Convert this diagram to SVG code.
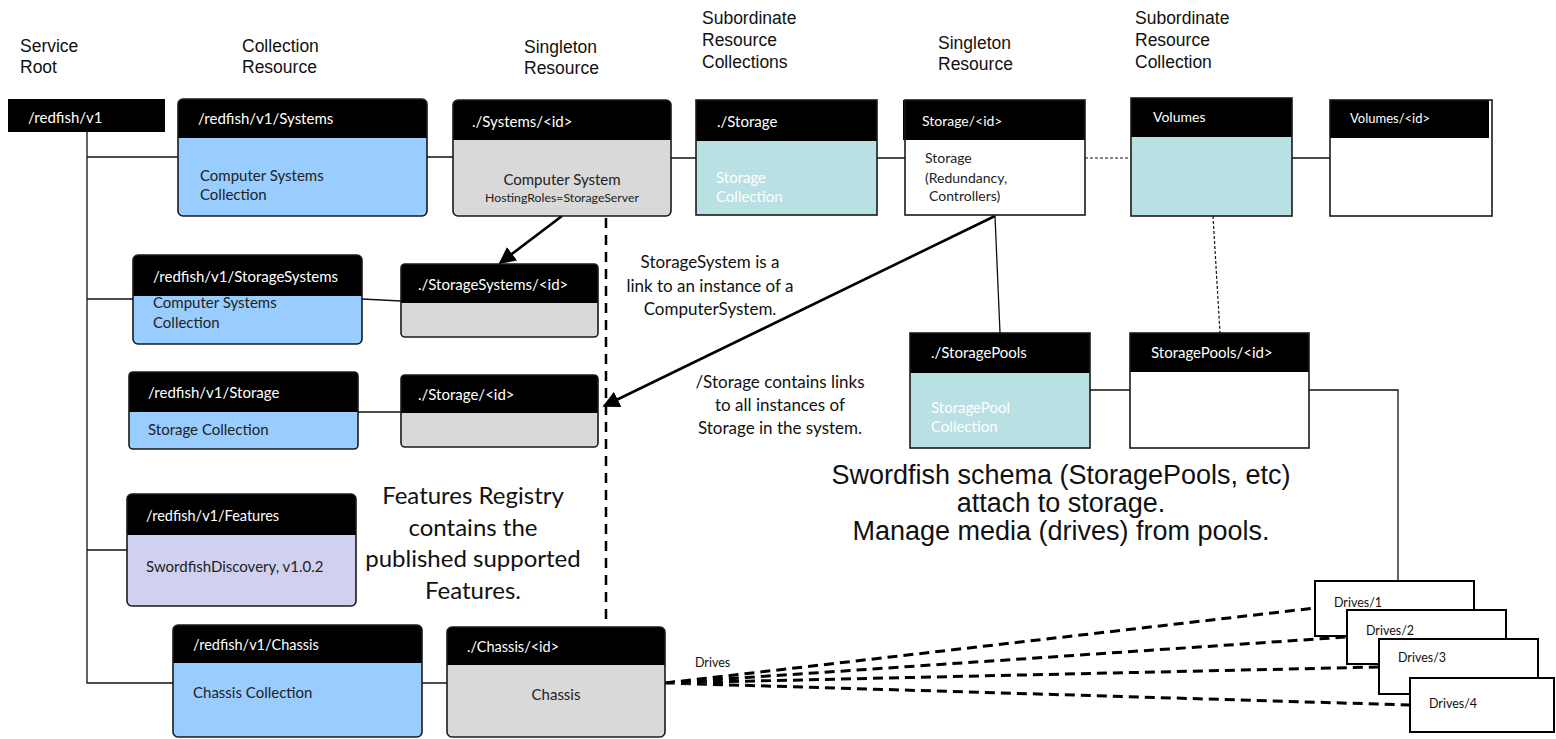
<svg xmlns="http://www.w3.org/2000/svg" width="1556" height="739" viewBox="0 0 1556 739">
<style>
.lbl{font-family:"Liberation Sans",Arial,sans-serif;font-size:17.5px;fill:#111}
.big{font-family:"Liberation Sans",Arial,sans-serif;font-size:27px;fill:#111;text-anchor:middle}
.ol{fill:none;stroke:#1a1a1a;stroke-width:1.6}
.hd{fill:#000}
.ht{font-family:Lato,"Open Sans",sans-serif;font-size:15px;fill:#fff}
.bt{font-family:Lato,"Open Sans",sans-serif;font-size:15px;fill:#222}
.wt{font-family:Lato,"Open Sans",sans-serif;font-size:15px;fill:#fff}
.ann{font-family:Lato,"Open Sans",sans-serif;font-size:17px;fill:#111;text-anchor:middle}
.blue{fill:#99CCFF}
.grey{fill:#D9D9D9}
.teal{fill:#B9E0E3}
.lav{fill:#D0D0F0}
.wh{fill:#fff}
.ln{fill:none;stroke:#111;stroke-width:1.3}
.dln{fill:none;stroke:#111;stroke-width:1.2;stroke-dasharray:3 2}
.tdash{fill:none;stroke:#000;stroke-width:2.5;stroke-dasharray:10 7}
.ddash{fill:none;stroke:#000;stroke-width:3;stroke-dasharray:10 6}
.arr{fill:none;stroke:#000;stroke-width:2.6}
.dt{font-family:Lato,"Open Sans",sans-serif;font-size:12.5px;fill:#111}
.dbox{fill:#fff;stroke:#000;stroke-width:2}
</style>
<defs>
<marker id="ah" viewBox="0 0 10 10" refX="9" refY="5" markerWidth="6.5" markerHeight="6.5" orient="auto" markerUnits="strokeWidth">
<path d="M0,0 L10,5 L0,10 Z" fill="#000"/>
</marker>
</defs>

<g id="column-labels">
<text class="lbl" x="20" y="52">Service</text>
<text class="lbl" x="20" y="73">Root</text>
<text class="lbl" x="242" y="52">Collection</text>
<text class="lbl" x="242" y="73">Resource</text>
<text class="lbl" x="524" y="53">Singleton</text>
<text class="lbl" x="524" y="74">Resource</text>
<text class="lbl" x="702" y="24">Subordinate</text>
<text class="lbl" x="702" y="46">Resource</text>
<text class="lbl" x="702" y="68">Collections</text>
<text class="lbl" x="938" y="49">Singleton</text>
<text class="lbl" x="938" y="70">Resource</text>
<text class="lbl" x="1135" y="24">Subordinate</text>
<text class="lbl" x="1135" y="46">Resource</text>
<text class="lbl" x="1135" y="68">Collection</text>
</g>

<g id="connectors">
<path class="ln" d="M87,132 V683 H173 M87,157 H178 M87,299 H133 M87,550 H127"/>
<path class="ln" d="M427,157 H453 M671,158 H696 M877,158 H905 M1292,158 H1330"/>
<path class="dln" d="M1085,158 H1131"/>
<path class="ln" d="M362,299 L401,301 M358,412 H401 M1090,390 H1130 M1309,390 H1398 V581 M422,683 H447"/>
<path class="ln" d="M995,216 L1000,333"/>
<path class="dln" d="M1213,216 L1220,333"/>
<path class="tdash" d="M606,218 V622"/>
<path class="arr" d="M562,216 L500,263" marker-end="url(#ah)"/>
<path class="arr" d="M995,216 L604,406" marker-end="url(#ah)"/>
<path class="ddash" d="M665,683 L1315,608 M665,683 L1347,637 M665,683 L1379,667 M665,683 L1410,705"/>
</g>

<g id="root">
<rect class="hd" x="8" y="99" width="157" height="33"/>
<text class="ht" x="28" y="123">/redfish/v1</text>
</g>

<g id="systems-collection">
<rect class="blue" x="178" y="99" width="249" height="117" rx="5"/>
<path class="hd" d="M178,138 V104 Q178,99 183,99 H422 Q427,99 427,104 V138 Z"/>
<rect class="ol" x="178" y="99" width="249" height="117" rx="5"/>
<text class="ht" x="198" y="124">/redfish/v1/Systems</text>
<text class="bt" x="200" y="181">Computer Systems</text>
<text class="bt" x="200" y="200">Collection</text>
</g>

<g id="system-id">
<rect class="grey" x="453" y="100" width="218" height="116" rx="5"/>
<path class="hd" d="M453,140 V105 Q453,100 458,100 H666 Q671,100 671,105 V140 Z"/>
<rect class="ol" x="453" y="100" width="218" height="116" rx="5"/>
<text class="ht" x="472" y="127">./Systems/&lt;id&gt;</text>
<text class="bt" x="562" y="185" text-anchor="middle">Computer System</text>
<text class="bt" x="562" y="202" text-anchor="middle" style="font-size:12.3px">HostingRoles<tspan fill="#e00000">=</tspan>StorageServer</text>
</g>

<g id="storage-sub-collection">
<rect class="teal" x="696" y="100" width="181" height="115"/>
<rect class="hd" x="696" y="100" width="181" height="41"/>
<rect class="ol" x="696" y="100" width="181" height="115"/>
<text class="ht" x="717" y="127">./Storage</text>
<text class="wt" x="716" y="183">Storage</text>
<text class="wt" x="716" y="202">Collection</text>
</g>

<g id="storage-id">
<rect class="wh" x="905" y="100" width="180" height="115"/>
<rect class="hd" x="903" y="100" width="182" height="40"/>
<rect class="ol" x="905" y="100" width="180" height="115"/>
<text class="ht" x="922" y="126" style="font-size:14px">Storage/&lt;id&gt;</text>
<text class="bt" x="925" y="163" style="font-size:14px">Storage</text>
<text class="bt" x="925" y="183" style="font-size:14px">(Redundancy,</text>
<text class="bt" x="929" y="201" style="font-size:14px">Controllers)</text>
</g>

<g id="volumes">
<rect class="teal" x="1131" y="98" width="161" height="118"/>
<rect class="hd" x="1131" y="98" width="161" height="39"/>
<rect class="ol" x="1131" y="98" width="161" height="118"/>
<text class="ht" x="1153" y="122" style="font-size:14px">Volumes</text>
</g>

<g id="volumes-id">
<rect class="wh" x="1330" y="100" width="162" height="116"/>
<rect class="hd" x="1330" y="100" width="159" height="38"/>
<rect class="ol" x="1330" y="100" width="162" height="116"/>
<text class="ht" x="1350" y="123" style="font-size:13px">Volumes/&lt;id&gt;</text>
</g>

<g id="storagesystems-collection">
<rect class="blue" x="133" y="255" width="229" height="89" rx="5"/>
<path class="hd" d="M133,296 V260 Q133,255 138,255 H357 Q362,255 362,260 V296 Z"/>
<rect class="ol" x="133" y="255" width="229" height="89" rx="5"/>
<text class="ht" x="153" y="282">/redfish/v1/StorageSystems</text>
<text class="bt" x="153" y="308">Computer Systems</text>
<text class="bt" x="153" y="328">Collection</text>
</g>

<g id="storagesystems-id">
<rect class="grey" x="401" y="264" width="197" height="73" rx="4"/>
<path class="hd" d="M401,303 V268 Q401,264 405,264 H594 Q598,264 598,268 V303 Z"/>
<rect class="ol" x="401" y="264" width="197" height="73" rx="4"/>
<text class="ht" x="418" y="290">./StorageSystems/&lt;id&gt;</text>
</g>

<g id="storage-collection">
<rect class="blue" x="129" y="372" width="229" height="77" rx="4"/>
<path class="hd" d="M129,412 V376 Q129,372 133,372 H354 Q358,372 358,376 V412 Z"/>
<rect class="ol" x="129" y="372" width="229" height="77" rx="4"/>
<text class="ht" x="148" y="398">/redfish/v1/Storage</text>
<text class="bt" x="148" y="435">Storage Collection</text>
</g>

<g id="storage-link-id">
<rect class="grey" x="401" y="375" width="197" height="72" rx="4"/>
<path class="hd" d="M401,413 V379 Q401,375 405,375 H594 Q598,375 598,379 V413 Z"/>
<rect class="ol" x="401" y="375" width="197" height="72" rx="4"/>
<text class="ht" x="418" y="400">./Storage/&lt;id&gt;</text>
</g>

<g id="storagepools">
<rect class="teal" x="910" y="333" width="180" height="115"/>
<rect class="hd" x="910" y="333" width="180" height="40"/>
<rect class="ol" x="910" y="333" width="180" height="115"/>
<text class="ht" x="931" y="358">./StoragePools</text>
<text class="wt" x="931" y="413">StoragePool</text>
<text class="wt" x="931" y="432">Collection</text>
</g>

<g id="storagepools-id">
<rect class="wh" x="1130" y="333" width="179" height="115"/>
<rect class="hd" x="1130" y="333" width="179" height="39"/>
<rect class="ol" x="1130" y="333" width="179" height="115"/>
<text class="ht" x="1151" y="358">StoragePools/&lt;id&gt;</text>
</g>

<g id="features">
<rect class="lav" x="127" y="494" width="229" height="112" rx="5"/>
<path class="hd" d="M127,535 V499 Q127,494 132,494 H351 Q356,494 356,499 V535 Z"/>
<rect class="ol" x="127" y="494" width="229" height="112" rx="5"/>
<text class="ht" x="146" y="521" style="font-size:14.5px">/redfish/v1/Features</text>
<text class="bt" x="146" y="572">SwordfishDiscovery, v1.0.2</text>
</g>

<g id="chassis-collection">
<rect class="blue" x="173" y="625" width="249" height="112" rx="5"/>
<path class="hd" d="M173,663 V630 Q173,625 178,625 H417 Q422,625 422,630 V663 Z"/>
<rect class="ol" x="173" y="625" width="249" height="112" rx="5"/>
<text class="ht" x="193" y="650" style="font-size:14.5px">/redfish/v1/Chassis</text>
<text class="bt" x="193" y="698">Chassis Collection</text>
</g>

<g id="chassis-id">
<rect class="grey" x="447" y="627" width="218" height="110" rx="5"/>
<path class="hd" d="M447,665 V632 Q447,627 452,627 H660 Q665,627 665,632 V665 Z"/>
<rect class="ol" x="447" y="627" width="218" height="110" rx="5"/>
<text class="ht" x="467" y="652" style="font-size:14.5px">./Chassis/&lt;id&gt;</text>
<text class="bt" x="556" y="700" text-anchor="middle">Chassis</text>
</g>

<g id="drives-label">
<text class="dt" x="695" y="667">Drives</text>
</g>

<g id="drive-1">
<rect class="dbox" x="1315" y="581" width="159" height="55"/>
<text class="dt" x="1334" y="607">Drives/1</text>
</g>
<g id="drive-2">
<rect class="dbox" x="1347" y="610" width="159" height="54"/>
<text class="dt" x="1366" y="635">Drives/2</text>
</g>
<g id="drive-3">
<rect class="dbox" x="1379" y="639" width="159" height="55"/>
<text class="dt" x="1398" y="662">Drives/3</text>
</g>
<g id="drive-4">
<rect class="dbox" x="1410" y="678" width="144" height="54"/>
<text class="dt" x="1429" y="708">Drives/4</text>
</g>

<g id="annotations">
<text class="ann" x="710" y="268">StorageSystem is a</text>
<text class="ann" x="710" y="292">link to an instance of a</text>
<text class="ann" x="710" y="315">ComputerSystem.</text>
<text class="ann" x="780" y="388">/Storage contains links</text>
<text class="ann" x="780" y="411">to all instances of</text>
<text class="ann" x="780" y="434">Storage in the system.</text>
<text class="ann" x="473" y="504" style="font-size:24px">Features Registry</text>
<text class="ann" x="473" y="536" style="font-size:24px">contains the</text>
<text class="ann" x="473" y="567" style="font-size:24px">published supported</text>
<text class="ann" x="473" y="599" style="font-size:24px">Features.</text>
<text class="big" x="1061" y="484">Swordfish schema (StoragePools, etc)</text>
<text class="big" x="1061" y="512">attach to storage.</text>
<text class="big" x="1061" y="540">Manage media (drives) from pools.</text>
</g>
</svg>
